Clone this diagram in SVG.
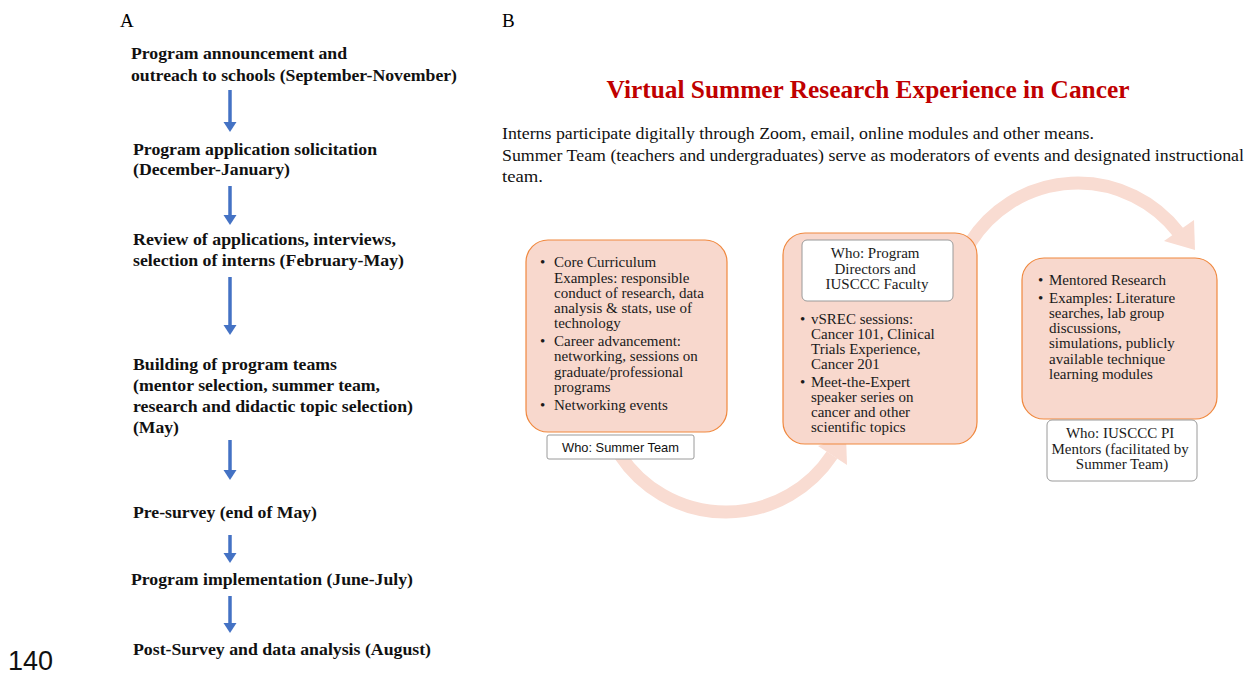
<svg xmlns="http://www.w3.org/2000/svg" width="1247" height="674" viewBox="0 0 1247 674">
<defs>
<style>
.lbl{font-family:"Liberation Serif","Times New Roman",serif;fill:#000}
.step{font-family:"Liberation Serif","Times New Roman",serif;font-weight:bold;font-size:16px;fill:#111}
.box{fill:#F8D8CD;stroke:#F0883E;stroke-width:1.2}
.who{fill:#fff;stroke:#9a9a9a;stroke-width:1}
.bt{font-family:"Liberation Serif","Times New Roman",serif;font-size:15px;fill:#1a1a1a}
.pt{font-family:"Liberation Serif","Times New Roman",serif;font-size:16px;fill:#111}
.arc{fill:none;stroke:#F9DCD2;stroke-width:13}
.head{fill:#F9DCD2}
.va{stroke:#4472C4;stroke-width:3.5}
.vh{fill:#4472C4}
</style>
</defs>
<rect width="1247" height="674" fill="#fff"/>

<text class="lbl" x="120" y="27" font-size="19">A</text>
<text class="lbl" x="502" y="27" font-size="19">B</text>
<text x="8" y="670" font-family="Liberation Sans, Arial, sans-serif" font-size="27" fill="#111">140</text>

<!-- Left timeline -->
<g id="step1">
<text class="step" x="131" y="59" textLength="216" lengthAdjust="spacingAndGlyphs">Program announcement and</text>
<text class="step" x="131" y="81" textLength="326" lengthAdjust="spacingAndGlyphs">outreach to schools (September-November)</text>
</g>
<g id="step2">
<text class="step" x="133" y="155" textLength="244" lengthAdjust="spacingAndGlyphs">Program application solicitation</text>
<text class="step" x="133" y="175" textLength="157" lengthAdjust="spacingAndGlyphs">(December-January)</text>
</g>
<g id="step3">
<text class="step" x="133" y="245" textLength="263" lengthAdjust="spacingAndGlyphs">Review of applications, interviews,</text>
<text class="step" x="133" y="266" textLength="271" lengthAdjust="spacingAndGlyphs">selection of interns (February-May)</text>
</g>
<g id="step4">
<text class="step" x="133" y="370" textLength="204" lengthAdjust="spacingAndGlyphs">Building of program teams</text>
<text class="step" x="133" y="391" textLength="247" lengthAdjust="spacingAndGlyphs">(mentor selection, summer team,</text>
<text class="step" x="133" y="412" textLength="280" lengthAdjust="spacingAndGlyphs">research and didactic topic selection)</text>
<text class="step" x="133" y="433" textLength="46" lengthAdjust="spacingAndGlyphs">(May)</text>
</g>
<g id="step5">
<text class="step" x="133" y="518" textLength="184" lengthAdjust="spacingAndGlyphs">Pre-survey (end of May)</text>
</g>
<g id="step6">
<text class="step" x="131" y="585" textLength="282" lengthAdjust="spacingAndGlyphs">Program implementation (June-July)</text>
</g>
<g id="step7">
<text class="step" x="133" y="655" textLength="298" lengthAdjust="spacingAndGlyphs">Post-Survey and data analysis (August)</text>
</g>

<g id="timeline-connectors">
<line class="va" x1="230" y1="90" x2="230" y2="123"/><polygon class="vh" points="223.5,122 236.5,122 230,132"/>
<line class="va" x1="230" y1="186" x2="230" y2="216"/><polygon class="vh" points="223.5,215 236.5,215 230,225"/>
<line class="va" x1="230" y1="277" x2="230" y2="326"/><polygon class="vh" points="223.5,325 236.5,325 230,335"/>
<line class="va" x1="230" y1="440" x2="230" y2="471"/><polygon class="vh" points="223.5,470 236.5,470 230,480"/>
<line class="va" x1="230" y1="535" x2="230" y2="554"/><polygon class="vh" points="223.5,553 236.5,553 230,563"/>
<line class="va" x1="230" y1="596" x2="230" y2="624"/><polygon class="vh" points="223.5,623 236.5,623 230,633"/>
</g>

<!-- Right panel header -->
<text x="868" y="98" text-anchor="middle" font-family="Liberation Serif, Times New Roman, serif" font-weight="bold" font-size="25" fill="#C00000" textLength="523" lengthAdjust="spacingAndGlyphs">Virtual Summer Research Experience in Cancer</text>
<text class="pt" x="502" y="139" textLength="592" lengthAdjust="spacingAndGlyphs">Interns participate digitally through Zoom, email, online modules and other means.</text>
<text class="pt" x="502" y="161" textLength="742" lengthAdjust="spacingAndGlyphs">Summer Team (teachers and undergraduates) serve as moderators of events and designated instructional</text>
<text class="pt" x="502" y="182" textLength="41" lengthAdjust="spacingAndGlyphs">team.</text>

<!-- Curved connectors -->
<g id="curved-connectors">
<path class="arc" d="M620,455 A127,127 0 0 0 832,455"/>
<polygon class="head" points="846,436 847,465 818,446"/>
<path class="arc" d="M970,243 A127,127 0 0 1 1178,232"/>
<polygon class="head" points="1195,250 1194,220 1164,241"/>
</g>

<g id="node-core">
<rect class="box" x="526" y="240" width="201" height="192" rx="22"/>
<text class="bt">
<tspan x="540" y="267">•</tspan><tspan x="554" y="267">Core Curriculum</tspan>
<tspan x="554" y="282.5">Examples: responsible</tspan>
<tspan x="554" y="298">conduct of research, data</tspan>
<tspan x="554" y="313">analysis &amp; stats, use of</tspan>
<tspan x="554" y="328">technology</tspan>
<tspan x="540" y="346">•</tspan><tspan x="554" y="346">Career advancement:</tspan>
<tspan x="554" y="361">networking, sessions on</tspan>
<tspan x="554" y="376.5">graduate/professional</tspan>
<tspan x="554" y="392">programs</tspan>
<tspan x="540" y="410">•</tspan><tspan x="554" y="410">Networking events</tspan>
</text>
</g>
<g id="who-summer">
<rect class="who" x="547" y="435" width="147" height="24" rx="2"/>
<text x="620.5" y="452" text-anchor="middle" font-family="Liberation Sans, Arial, sans-serif" font-size="13" fill="#111" textLength="117" lengthAdjust="spacingAndGlyphs">Who: Summer Team</text>
</g>

<g id="node-vsrec">
<rect class="box" x="783" y="233" width="194" height="211" rx="22"/>
<rect class="who" x="802" y="240" width="151" height="61" rx="5"/>
<text class="bt" text-anchor="middle">
<tspan x="877" y="258">Who: Program</tspan>
<tspan x="877" y="273.5">Directors and</tspan>
<tspan x="877" y="289">IUSCCC Faculty</tspan>
</text>
<text class="bt">
<tspan x="800" y="324">•</tspan><tspan x="811" y="324">vSREC sessions:</tspan>
<tspan x="811" y="339">Cancer 101, Clinical</tspan>
<tspan x="811" y="354">Trials Experience,</tspan>
<tspan x="811" y="369">Cancer 201</tspan>
<tspan x="800" y="387">•</tspan><tspan x="811" y="387">Meet-the-Expert</tspan>
<tspan x="811" y="402">speaker series on</tspan>
<tspan x="811" y="417">cancer and other</tspan>
<tspan x="811" y="432">scientific topics</tspan>
</text>
</g>

<g id="node-mentored">
<rect class="box" x="1022" y="258" width="195" height="161" rx="22"/>
<text class="bt">
<tspan x="1038" y="285">•</tspan><tspan x="1049" y="285">Mentored Research</tspan>
<tspan x="1038" y="303">•</tspan><tspan x="1049" y="303">Examples: Literature</tspan>
<tspan x="1049" y="318">searches, lab group</tspan>
<tspan x="1049" y="333">discussions,</tspan>
<tspan x="1049" y="348">simulations, publicly</tspan>
<tspan x="1049" y="364">available technique</tspan>
<tspan x="1049" y="379">learning modules</tspan>
</text>
</g>
<g id="who-mentors">
<rect class="who" x="1047" y="420" width="150" height="61" rx="5"/>
<text class="bt" text-anchor="middle">
<tspan x="1122" y="438">Who: IUSCCC PI</tspan>
<tspan x="1122" y="454">Mentors (facilitated by</tspan>
<tspan x="1122" y="469">Summer Team)</tspan>
</text>
</g>
</svg>
